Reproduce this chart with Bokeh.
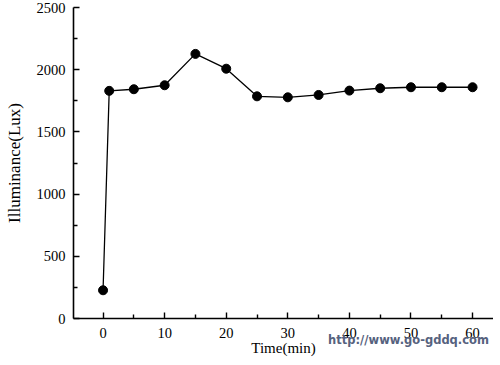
from bokeh.plotting import figure
from bokeh.models import Range1d, FixedTicker, LinearAxis
from bokeh.embed import file_html
from bokeh.resources import INLINE

time_min = [0, 1, 5, 10, 15, 20, 25, 30, 35, 40, 45, 50, 55, 60]
illuminance = [227, 1830, 1843, 1875, 2127, 2008, 1786, 1778, 1797, 1832, 1851, 1859, 1859, 1859]
x_ticks = [0, 10, 20, 30, 40, 50, 60]
x_minor = [5, 15, 25, 35, 45, 55]
y_ticks = [0, 500, 1000, 1500, 2000, 2500]
y_minor = [250, 750, 1250, 1750, 2250]
watermark = "http://www.go-gddq.com"
watermark_x = 49.6

p = figure(width=493, height=358, output_backend="svg", toolbar_location=None,
           x_range=Range1d(-4.8, 63.4), y_range=Range1d(0, 2500),
           min_border_left=73, min_border_right=0, min_border_top=7, min_border_bottom=0)
p.outline_line_color = None
p.grid.visible = False
p.background_fill_color = "white"
p.border_fill_color = "white"

p.line(time_min, illuminance, line_color="black", line_width=1.3)
p.scatter(time_min, illuminance, size=9, fill_color="black", line_color="black")

for ax in (p.xaxis[0], p.yaxis[0]):
    ax.axis_line_color = "black"
    ax.axis_line_width = 1.6
    ax.major_tick_in = 6
    ax.major_tick_out = 0
    ax.minor_tick_in = 4
    ax.minor_tick_out = 0
    ax.major_tick_line_width = 1.4
    ax.minor_tick_line_width = 1.4
    ax.major_label_text_font = "Liberation Serif"
    ax.major_label_text_font_size = "14.5px"
    ax.major_label_text_color = "black"
    ax.axis_label_text_font = "Liberation Serif"
    ax.axis_label_text_font_style = "normal"
    ax.axis_label_text_color = "black"

p.xaxis[0].axis_label_text_font_size = "15px"
p.yaxis[0].axis_label_text_font_size = "17px"
p.xaxis[0].ticker = FixedTicker(ticks=x_ticks, minor_ticks=x_minor)
p.yaxis[0].ticker = FixedTicker(ticks=y_ticks, minor_ticks=y_minor)
p.xaxis[0].axis_label = "Time(min)"
p.yaxis[0].axis_label = "Illuminance(Lux)"
p.xaxis[0].major_label_standoff = 9
p.yaxis[0].major_label_standoff = 8
p.xaxis[0].axis_label_standoff = -1
p.yaxis[0].axis_label_standoff = 10

wm_axis = LinearAxis(ticker=FixedTicker(ticks=[watermark_x], minor_ticks=[]),
                     major_label_overrides={watermark_x: watermark},
                     axis_line_color=None, major_tick_line_color=None, minor_tick_line_color=None,
                     major_tick_in=0, major_tick_out=0, minor_tick_in=0, minor_tick_out=0,
                     major_label_standoff=-26,
                     major_label_text_font="DejaVu Sans", major_label_text_font_size="11.5px",
                     major_label_text_font_style="bold", major_label_text_color="#56627e")
p.add_layout(wm_axis, "below")

open("out.html", "w").write(file_html(p, INLINE))
